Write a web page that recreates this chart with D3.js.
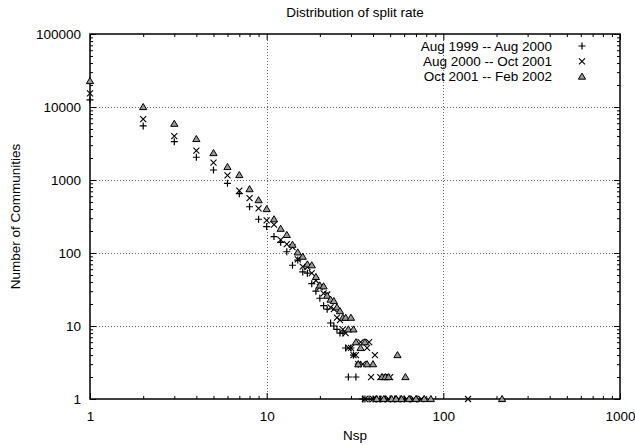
<!DOCTYPE html>
<html>
<head>
<meta charset="utf-8">
<script src="https://cdn.jsdelivr.net/npm/d3@7"></script>
<style>
  html, body { margin: 0; padding: 0; background: #fff; }
  svg text { font-family: "Liberation Sans", Arial, sans-serif; fill: #000; }
</style>
</head>
<body>
<svg id="chart" width="635" height="445"></svg>
<script>
// ---- data ----
const seriesNames = ["Aug 1999 -- Aug 2000", "Aug 2000 -- Oct 2001", "Oct 2001 -- Feb 2002"];

const nspA = [1,2,3,4,5,6,7,8,9,10,11,12,13,14,15,16,17,18,19,20,21,22,23,24,25,26,27,28,29,30,31,32,33,35,36,38,40,42,44,47,50,53,57,60,65,71];
const cntA = [12500,5500,3350,2050,1370,900,650,430,290,230,168,140,104,68,80,55,53,38,30,24,19,17,11,10,9,8,8,5,2,5,4,2,3,1,1,1,1,1,1,1,1,1,1,1,1,1];

const nspB = [1,2,3,4,5,6,7,8,9,10,11,12,13,14,15,16,17,18,19,20,21,22,23,24,25,26,27,28,29,30,31,32,33,34,35,37,38,39,41,44,46,48,50,36,40,43,45,49,52,56,62,68,75,138];
const cntB = [15400,6800,4000,2520,1730,1160,715,565,410,280,245,151,132,120,82,65,64,53,42,34,28,27,18,17,13,12,9,8,5,5,4,4,3,6,3,5,6,2,4,2,2,2,2,1,1,1,1,1,1,1,1,1,1,1];

const nspC = [1,2,3,4,5,6,7,8,9,10,11,12,13,14,15,16,17,18,19,20,21,22,23,24,25,26,27,28,29,30,31,32,33,34,36,37,40,45,47,49,55,61,42,46,51,54,58,64,70,78,85,215];
const cntC = [22700,10000,5900,3650,2340,1510,1170,750,530,400,290,215,177,130,102,89,70,68,47,36,35,26,23,22,18,16,13,13,9,13,9,6,3,5,6,3,3,2,2,2,4,2,1,1,1,1,1,1,1,1,1,1];

const xTickValues = [1, 10, 100, 1000];
const yTickValues = [1, 10, 100, 1000, 10000, 100000];

const titleText = "Distribution of split rate";
const xLabelText = "Nsp";
const yLabelText = "Number of Communities";

// ---- layout ----
const svg = d3.select("#chart");
const L = 90, R = 620, T = 34, B = 399;
const FS = 13.5;

const x = d3.scaleLog().domain([1, 1000]).range([L, R]);
const y = d3.scaleLog().domain([1, 100000]).range([B, T]);

// minor tick values
const xMinor = [];
for (let d = 1; d < 1000; d *= 10) for (let k = 2; k <= 9; k++) xMinor.push(d * k);
const yMinor = [];
for (let d = 1; d < 100000; d *= 10) for (let k = 2; k <= 9; k++) yMinor.push(d * k);

// grid lines
const grid = svg.append("g").attr("stroke", "#666").attr("stroke-width", 1).attr("stroke-dasharray", "1,2");
grid.selectAll("line.gx").data(xTickValues.filter(v => v > 1 && v < 1000)).enter().append("line")
  .attr("x1", d => Math.round(x(d)) + 0.5).attr("x2", d => Math.round(x(d)) + 0.5)
  .attr("y1", T).attr("y2", B);
grid.selectAll("line.gy").data(yTickValues.filter(v => v > 1 && v < 100000)).enter().append("line")
  .attr("y1", d => Math.round(y(d)) + 0.5).attr("y2", d => Math.round(y(d)) + 0.5)
  .attr("x1", L).attr("x2", R);

// axes with inward ticks, mirrored
function addAxis(axisGen, tr) {
  const g = svg.append("g").attr("transform", tr).call(axisGen);
  g.select(".domain").remove();
  g.selectAll("line").attr("stroke", "#000").attr("stroke-width", 1);
  return g;
}
const noFmt = () => "";
const gxb = addAxis(d3.axisBottom(x).tickValues(xTickValues).tickSize(-6).tickPadding(12).tickFormat(d3.format("d")), `translate(0,${B})`);
gxb.selectAll("text").attr("font-size", FS).attr("font-family", "Liberation Sans, Arial, sans-serif");
addAxis(d3.axisBottom(x).tickValues(xMinor).tickSize(-3).tickFormat(noFmt), `translate(0,${B})`);
addAxis(d3.axisTop(x).tickValues(xTickValues).tickSize(-6).tickFormat(noFmt), `translate(0,${T})`);
addAxis(d3.axisTop(x).tickValues(xMinor).tickSize(-3).tickFormat(noFmt), `translate(0,${T})`);
const gyl = addAxis(d3.axisLeft(y).tickValues(yTickValues).tickSize(-6).tickPadding(9).tickFormat(d3.format("d")), `translate(${L},0)`);
gyl.selectAll("text").attr("font-size", FS).attr("font-family", "Liberation Sans, Arial, sans-serif");
addAxis(d3.axisLeft(y).tickValues(yMinor).tickSize(-3).tickFormat(noFmt), `translate(${L},0)`);
addAxis(d3.axisRight(y).tickValues(yTickValues).tickSize(-6).tickFormat(noFmt), `translate(${R},0)`);
addAxis(d3.axisRight(y).tickValues(yMinor).tickSize(-3).tickFormat(noFmt), `translate(${R},0)`);

// frame
svg.append("rect").attr("x", L).attr("y", T).attr("width", R - L).attr("height", B - T)
  .attr("fill", "none").attr("stroke", "#000").attr("stroke-width", 1.5);

// markers
function plus(g, cx, cy) {
  g.append("path").attr("d", `M${cx-3.5},${cy}H${cx+3.5}M${cx},${cy-3.5}V${cy+3.5}`)
    .attr("stroke", "#000").attr("stroke-width", 1.2).attr("fill", "none");
}
function cross(g, cx, cy) {
  g.append("path").attr("d", `M${cx-3},${cy-3}L${cx+3},${cy+3}M${cx-3},${cy+3}L${cx+3},${cy-3}`)
    .attr("stroke", "#000").attr("stroke-width", 1.1).attr("fill", "none");
}
function tri(g, cx, cy) {
  g.append("path").attr("d", `M${cx},${cy-3.5}L${cx+3.6},${cy+2.6}L${cx-3.6},${cy+2.6}Z`)
    .attr("stroke", "#000").attr("stroke-width", 1).attr("fill", "#999");
}
const markers = [plus, cross, tri];
const sets = [[nspA, cntA], [nspB, cntB], [nspC, cntC]];

const pts = svg.append("g");
sets.forEach(([xs, ys], i) => {
  xs.forEach((xv, j) => markers[i](pts, x(xv), y(ys[j])));
});

// legend
const legendY = [46, 61.3, 76.6];
seriesNames.forEach((name, i) => {
  svg.append("text").attr("x", 552).attr("y", legendY[i]).attr("dy", "0.35em")
    .attr("text-anchor", "end").attr("font-size", FS).text(name);
  markers[i](svg, 582, legendY[i]);
});

// title and labels
svg.append("text").attr("x", (L + R) / 2).attr("y", 12).attr("dy", "0.35em")
  .attr("text-anchor", "middle").attr("font-size", FS).text(titleText);
svg.append("text").attr("x", (L + R) / 2).attr("y", 435).attr("dy", "0.35em")
  .attr("text-anchor", "middle").attr("font-size", FS).text(xLabelText);
svg.append("text").attr("transform", `translate(15,${(T + B) / 2}) rotate(-90)`).attr("dy", "0.35em")
  .attr("text-anchor", "middle").attr("font-size", FS).text(yLabelText);
</script>
</body>
</html>
